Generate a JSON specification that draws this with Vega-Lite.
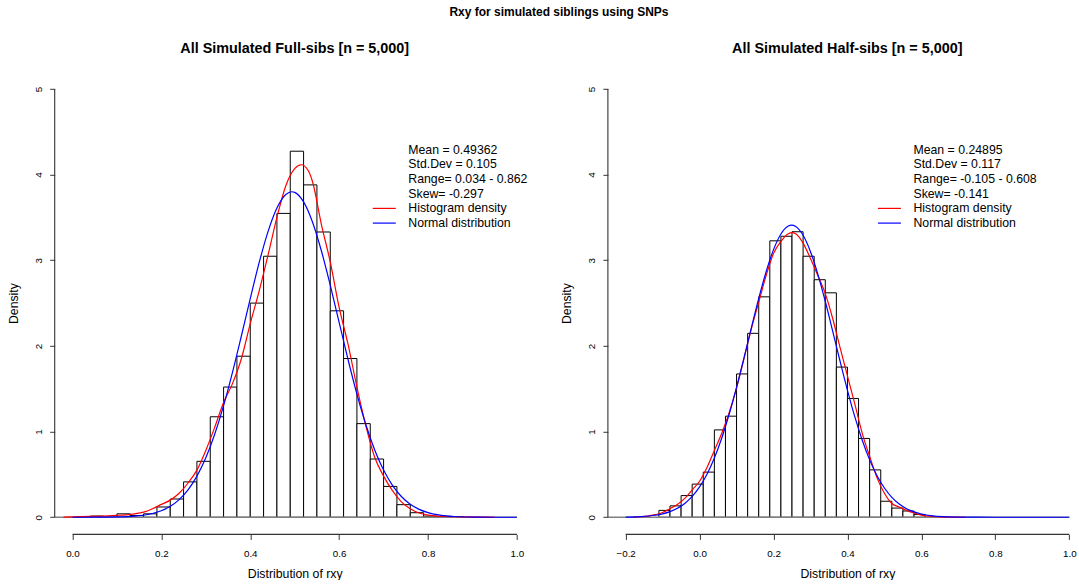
{
  "$schema": "https://vega.github.io/schema/vega-lite/v6.json",
  "background": "white",
  "padding": {"left": 6.7, "top": 4.8, "right": 0, "bottom": 0},
  "autosize": {"type": "pad"},
  "bounds": "flush",
  "spacing": 73.2,
  "title": {"text": "Rxy for simulated siblings using SNPs", "fontSize": 12, "fontWeight": "bold", "font": "Liberation Sans", "color": "#000", "anchor": "middle", "offset": 22, "dx": 17},
  "config": {
    "font": "Liberation Sans",
    "view": {"stroke": null},
    "axis": {"domain": false, "grid": false, "ticks": true, "tickSize": 5, "tickColor": "#333", "tickWidth": 1, "labelFont": "Liberation Sans", "labelFontSize": 9.8, "labelColor": "#000", "titleFont": "Liberation Sans", "titleFontSize": 12.3, "titleFontWeight": "normal", "titleColor": "#000", "labelOverlap": false, "labelFlush": false}
  },
  "resolve": {"scale": {"color": "independent", "x": "independent", "y": "independent"}, "legend": {"color": "independent"}},
  "datasets": {
    "full_hist": [
      {"bin_start": 0.01, "bin_end": 0.04, "density": 0.0067},
      {"bin_start": 0.04, "bin_end": 0.07, "density": 0.0133},
      {"bin_start": 0.07, "bin_end": 0.10, "density": 0},
      {"bin_start": 0.10, "bin_end": 0.13, "density": 0.04},
      {"bin_start": 0.13, "bin_end": 0.16, "density": 0.02},
      {"bin_start": 0.16, "bin_end": 0.19, "density": 0.04},
      {"bin_start": 0.19, "bin_end": 0.22, "density": 0.12},
      {"bin_start": 0.22, "bin_end": 0.25, "density": 0.213},
      {"bin_start": 0.25, "bin_end": 0.28, "density": 0.413},
      {"bin_start": 0.28, "bin_end": 0.31, "density": 0.653},
      {"bin_start": 0.31, "bin_end": 0.34, "density": 1.173},
      {"bin_start": 0.34, "bin_end": 0.37, "density": 1.52},
      {"bin_start": 0.37, "bin_end": 0.40, "density": 1.88},
      {"bin_start": 0.40, "bin_end": 0.43, "density": 2.50},
      {"bin_start": 0.43, "bin_end": 0.46, "density": 3.047},
      {"bin_start": 0.46, "bin_end": 0.49, "density": 3.547},
      {"bin_start": 0.49, "bin_end": 0.52, "density": 4.273},
      {"bin_start": 0.52, "bin_end": 0.55, "density": 3.88},
      {"bin_start": 0.55, "bin_end": 0.58, "density": 3.33},
      {"bin_start": 0.58, "bin_end": 0.61, "density": 2.41},
      {"bin_start": 0.61, "bin_end": 0.64, "density": 1.853},
      {"bin_start": 0.64, "bin_end": 0.67, "density": 1.093},
      {"bin_start": 0.67, "bin_end": 0.70, "density": 0.68},
      {"bin_start": 0.70, "bin_end": 0.73, "density": 0.36},
      {"bin_start": 0.73, "bin_end": 0.76, "density": 0.147},
      {"bin_start": 0.76, "bin_end": 0.79, "density": 0.053},
      {"bin_start": 0.79, "bin_end": 0.82, "density": 0.013},
      {"bin_start": 0.82, "bin_end": 0.85, "density": 0.007},
      {"bin_start": 0.85, "bin_end": 0.88, "density": 0.007}
    ],
    "half_hist": [
      {"bin_start": -0.11, "bin_end": -0.08, "density": 0.08},
      {"bin_start": -0.08, "bin_end": -0.05, "density": 0.133},
      {"bin_start": -0.05, "bin_end": -0.02, "density": 0.253},
      {"bin_start": -0.02, "bin_end": 0.01, "density": 0.387},
      {"bin_start": 0.01, "bin_end": 0.04, "density": 0.527},
      {"bin_start": 0.04, "bin_end": 0.07, "density": 1.02},
      {"bin_start": 0.07, "bin_end": 0.10, "density": 1.18},
      {"bin_start": 0.10, "bin_end": 0.13, "density": 1.673},
      {"bin_start": 0.13, "bin_end": 0.16, "density": 2.147},
      {"bin_start": 0.16, "bin_end": 0.19, "density": 2.573},
      {"bin_start": 0.19, "bin_end": 0.22, "density": 3.227},
      {"bin_start": 0.22, "bin_end": 0.25, "density": 3.28},
      {"bin_start": 0.25, "bin_end": 0.28, "density": 3.333},
      {"bin_start": 0.28, "bin_end": 0.31, "density": 3.047},
      {"bin_start": 0.31, "bin_end": 0.34, "density": 2.773},
      {"bin_start": 0.34, "bin_end": 0.37, "density": 2.62},
      {"bin_start": 0.37, "bin_end": 0.40, "density": 1.753},
      {"bin_start": 0.40, "bin_end": 0.43, "density": 1.387},
      {"bin_start": 0.43, "bin_end": 0.46, "density": 0.92},
      {"bin_start": 0.46, "bin_end": 0.49, "density": 0.553},
      {"bin_start": 0.49, "bin_end": 0.52, "density": 0.187},
      {"bin_start": 0.52, "bin_end": 0.55, "density": 0.107},
      {"bin_start": 0.55, "bin_end": 0.58, "density": 0.073},
      {"bin_start": 0.58, "bin_end": 0.61, "density": 0.033}
    ],
    "full_curves": [
      {"series": "Histogram density", "x": -0.02, "density": 0.001},
      {"series": "Histogram density", "x": 0.00, "density": 0.004},
      {"series": "Histogram density", "x": 0.04, "density": 0.011},
      {"series": "Histogram density", "x": 0.08, "density": 0.017},
      {"series": "Histogram density", "x": 0.10, "density": 0.022},
      {"series": "Histogram density", "x": 0.12, "density": 0.028},
      {"series": "Histogram density", "x": 0.14, "density": 0.040},
      {"series": "Histogram density", "x": 0.16, "density": 0.060},
      {"series": "Histogram density", "x": 0.18, "density": 0.100},
      {"series": "Histogram density", "x": 0.20, "density": 0.150},
      {"series": "Histogram density", "x": 0.22, "density": 0.200},
      {"series": "Histogram density", "x": 0.24, "density": 0.280},
      {"series": "Histogram density", "x": 0.26, "density": 0.400},
      {"series": "Histogram density", "x": 0.28, "density": 0.550},
      {"series": "Histogram density", "x": 0.30, "density": 0.780},
      {"series": "Histogram density", "x": 0.32, "density": 1.050},
      {"series": "Histogram density", "x": 0.34, "density": 1.340},
      {"series": "Histogram density", "x": 0.36, "density": 1.560},
      {"series": "Histogram density", "x": 0.38, "density": 1.850},
      {"series": "Histogram density", "x": 0.40, "density": 2.260},
      {"series": "Histogram density", "x": 0.42, "density": 2.640},
      {"series": "Histogram density", "x": 0.44, "density": 3.060},
      {"series": "Histogram density", "x": 0.46, "density": 3.500},
      {"series": "Histogram density", "x": 0.48, "density": 3.870},
      {"series": "Histogram density", "x": 0.50, "density": 4.070},
      {"series": "Histogram density", "x": 0.515, "density": 4.115},
      {"series": "Histogram density", "x": 0.53, "density": 4.050},
      {"series": "Histogram density", "x": 0.54, "density": 3.920},
      {"series": "Histogram density", "x": 0.56, "density": 3.420},
      {"series": "Histogram density", "x": 0.58, "density": 2.980},
      {"series": "Histogram density", "x": 0.60, "density": 2.450},
      {"series": "Histogram density", "x": 0.62, "density": 2.020},
      {"series": "Histogram density", "x": 0.64, "density": 1.520},
      {"series": "Histogram density", "x": 0.66, "density": 1.070},
      {"series": "Histogram density", "x": 0.68, "density": 0.700},
      {"series": "Histogram density", "x": 0.70, "density": 0.480},
      {"series": "Histogram density", "x": 0.72, "density": 0.310},
      {"series": "Histogram density", "x": 0.74, "density": 0.180},
      {"series": "Histogram density", "x": 0.76, "density": 0.100},
      {"series": "Histogram density", "x": 0.78, "density": 0.050},
      {"series": "Histogram density", "x": 0.80, "density": 0.025},
      {"series": "Histogram density", "x": 0.82, "density": 0.013},
      {"series": "Histogram density", "x": 0.85, "density": 0.008},
      {"series": "Histogram density", "x": 0.88, "density": 0.005},
      {"series": "Histogram density", "x": 0.92, "density": 0.002},
      {"series": "Histogram density", "x": 0.95, "density": 0.000},
      {"series": "Normal distribution", "x": 0.00, "density": 0.0001},
      {"series": "Normal distribution", "x": 0.05, "density": 0.0005},
      {"series": "Normal distribution", "x": 0.10, "density": 0.0034},
      {"series": "Normal distribution", "x": 0.14, "density": 0.0131},
      {"series": "Normal distribution", "x": 0.18, "density": 0.0439},
      {"series": "Normal distribution", "x": 0.20, "density": 0.0762},
      {"series": "Normal distribution", "x": 0.22, "density": 0.1273},
      {"series": "Normal distribution", "x": 0.24, "density": 0.2057},
      {"series": "Normal distribution", "x": 0.26, "density": 0.3197},
      {"series": "Normal distribution", "x": 0.28, "density": 0.4799},
      {"series": "Normal distribution", "x": 0.30, "density": 0.6940},
      {"series": "Normal distribution", "x": 0.32, "density": 0.9693},
      {"series": "Normal distribution", "x": 0.34, "density": 1.3030},
      {"series": "Normal distribution", "x": 0.36, "density": 1.6918},
      {"series": "Normal distribution", "x": 0.38, "density": 2.1160},
      {"series": "Normal distribution", "x": 0.40, "density": 2.5530},
      {"series": "Normal distribution", "x": 0.42, "density": 2.9720},
      {"series": "Normal distribution", "x": 0.44, "density": 3.3350},
      {"series": "Normal distribution", "x": 0.46, "density": 3.6100},
      {"series": "Normal distribution", "x": 0.48, "density": 3.7680},
      {"series": "Normal distribution", "x": 0.49362, "density": 3.7995},
      {"series": "Normal distribution", "x": 0.50, "density": 3.7925},
      {"series": "Normal distribution", "x": 0.52, "density": 3.6810},
      {"series": "Normal distribution", "x": 0.54, "density": 3.4470},
      {"series": "Normal distribution", "x": 0.56, "density": 3.1110},
      {"series": "Normal distribution", "x": 0.58, "density": 2.7090},
      {"series": "Normal distribution", "x": 0.60, "density": 2.2740},
      {"series": "Normal distribution", "x": 0.62, "density": 1.8416},
      {"series": "Normal distribution", "x": 0.64, "density": 1.4378},
      {"series": "Normal distribution", "x": 0.66, "density": 1.0825},
      {"series": "Normal distribution", "x": 0.68, "density": 0.7862},
      {"series": "Normal distribution", "x": 0.70, "density": 0.5505},
      {"series": "Normal distribution", "x": 0.72, "density": 0.3720},
      {"series": "Normal distribution", "x": 0.74, "density": 0.2422},
      {"series": "Normal distribution", "x": 0.76, "density": 0.1521},
      {"series": "Normal distribution", "x": 0.78, "density": 0.0921},
      {"series": "Normal distribution", "x": 0.80, "density": 0.0538},
      {"series": "Normal distribution", "x": 0.83, "density": 0.0224},
      {"series": "Normal distribution", "x": 0.86, "density": 0.0086},
      {"series": "Normal distribution", "x": 0.90, "density": 0.0021},
      {"series": "Normal distribution", "x": 0.95, "density": 0.0003},
      {"series": "Normal distribution", "x": 1.00, "density": 0.0000}
    ],
    "half_curves": [
      {"series": "Histogram density", "x": -0.18, "density": 0.002},
      {"series": "Histogram density", "x": -0.16, "density": 0.006},
      {"series": "Histogram density", "x": -0.14, "density": 0.013},
      {"series": "Histogram density", "x": -0.12, "density": 0.030},
      {"series": "Histogram density", "x": -0.10, "density": 0.055},
      {"series": "Histogram density", "x": -0.08, "density": 0.100},
      {"series": "Histogram density", "x": -0.06, "density": 0.150},
      {"series": "Histogram density", "x": -0.04, "density": 0.220},
      {"series": "Histogram density", "x": -0.02, "density": 0.320},
      {"series": "Histogram density", "x": 0.00, "density": 0.420},
      {"series": "Histogram density", "x": 0.02, "density": 0.580},
      {"series": "Histogram density", "x": 0.04, "density": 0.780},
      {"series": "Histogram density", "x": 0.06, "density": 0.980},
      {"series": "Histogram density", "x": 0.08, "density": 1.220},
      {"series": "Histogram density", "x": 0.10, "density": 1.510},
      {"series": "Histogram density", "x": 0.12, "density": 1.850},
      {"series": "Histogram density", "x": 0.14, "density": 2.200},
      {"series": "Histogram density", "x": 0.16, "density": 2.510},
      {"series": "Histogram density", "x": 0.18, "density": 2.820},
      {"series": "Histogram density", "x": 0.20, "density": 3.080},
      {"series": "Histogram density", "x": 0.22, "density": 3.220},
      {"series": "Histogram density", "x": 0.24, "density": 3.310},
      {"series": "Histogram density", "x": 0.25, "density": 3.323},
      {"series": "Histogram density", "x": 0.26, "density": 3.310},
      {"series": "Histogram density", "x": 0.28, "density": 3.200},
      {"series": "Histogram density", "x": 0.30, "density": 3.020},
      {"series": "Histogram density", "x": 0.32, "density": 2.820},
      {"series": "Histogram density", "x": 0.34, "density": 2.610},
      {"series": "Histogram density", "x": 0.36, "density": 2.320},
      {"series": "Histogram density", "x": 0.38, "density": 1.980},
      {"series": "Histogram density", "x": 0.40, "density": 1.650},
      {"series": "Histogram density", "x": 0.42, "density": 1.320},
      {"series": "Histogram density", "x": 0.44, "density": 0.980},
      {"series": "Histogram density", "x": 0.46, "density": 0.710},
      {"series": "Histogram density", "x": 0.48, "density": 0.460},
      {"series": "Histogram density", "x": 0.50, "density": 0.280},
      {"series": "Histogram density", "x": 0.52, "density": 0.160},
      {"series": "Histogram density", "x": 0.54, "density": 0.120},
      {"series": "Histogram density", "x": 0.56, "density": 0.080},
      {"series": "Histogram density", "x": 0.58, "density": 0.050},
      {"series": "Histogram density", "x": 0.60, "density": 0.025},
      {"series": "Histogram density", "x": 0.62, "density": 0.013},
      {"series": "Histogram density", "x": 0.65, "density": 0.005},
      {"series": "Histogram density", "x": 0.68, "density": 0.002},
      {"series": "Histogram density", "x": 0.72, "density": 0.000},
      {"series": "Normal distribution", "x": -0.20, "density": 0.0022},
      {"series": "Normal distribution", "x": -0.16, "density": 0.0076},
      {"series": "Normal distribution", "x": -0.12, "density": 0.0236},
      {"series": "Normal distribution", "x": -0.10, "density": 0.0399},
      {"series": "Normal distribution", "x": -0.08, "density": 0.0655},
      {"series": "Normal distribution", "x": -0.06, "density": 0.1044},
      {"series": "Normal distribution", "x": -0.04, "density": 0.1615},
      {"series": "Normal distribution", "x": -0.02, "density": 0.2428},
      {"series": "Normal distribution", "x": 0.00, "density": 0.3546},
      {"series": "Normal distribution", "x": 0.02, "density": 0.5026},
      {"series": "Normal distribution", "x": 0.04, "density": 0.6921},
      {"series": "Normal distribution", "x": 0.06, "density": 0.9255},
      {"series": "Normal distribution", "x": 0.08, "density": 1.2022},
      {"series": "Normal distribution", "x": 0.10, "density": 1.5163},
      {"series": "Normal distribution", "x": 0.12, "density": 1.8577},
      {"series": "Normal distribution", "x": 0.14, "density": 2.2102},
      {"series": "Normal distribution", "x": 0.16, "density": 2.5540},
      {"series": "Normal distribution", "x": 0.18, "density": 2.8663},
      {"series": "Normal distribution", "x": 0.20, "density": 3.1240},
      {"series": "Normal distribution", "x": 0.22, "density": 3.3071},
      {"series": "Normal distribution", "x": 0.24, "density": 3.3998},
      {"series": "Normal distribution", "x": 0.24895, "density": 3.4098},
      {"series": "Normal distribution", "x": 0.26, "density": 3.3946},
      {"series": "Normal distribution", "x": 0.28, "density": 3.2918},
      {"series": "Normal distribution", "x": 0.30, "density": 3.1002},
      {"series": "Normal distribution", "x": 0.32, "density": 2.8356},
      {"series": "Normal distribution", "x": 0.34, "density": 2.5191},
      {"series": "Normal distribution", "x": 0.36, "density": 2.1734},
      {"series": "Normal distribution", "x": 0.38, "density": 1.8212},
      {"series": "Normal distribution", "x": 0.40, "density": 1.4819},
      {"series": "Normal distribution", "x": 0.42, "density": 1.1709},
      {"series": "Normal distribution", "x": 0.44, "density": 0.8988},
      {"series": "Normal distribution", "x": 0.46, "density": 0.6700},
      {"series": "Normal distribution", "x": 0.48, "density": 0.4852},
      {"series": "Normal distribution", "x": 0.50, "density": 0.3413},
      {"series": "Normal distribution", "x": 0.52, "density": 0.2330},
      {"series": "Normal distribution", "x": 0.54, "density": 0.1546},
      {"series": "Normal distribution", "x": 0.56, "density": 0.0995},
      {"series": "Normal distribution", "x": 0.58, "density": 0.0623},
      {"series": "Normal distribution", "x": 0.60, "density": 0.0378},
      {"series": "Normal distribution", "x": 0.63, "density": 0.0170},
      {"series": "Normal distribution", "x": 0.66, "density": 0.0071},
      {"series": "Normal distribution", "x": 0.70, "density": 0.0020},
      {"series": "Normal distribution", "x": 0.75, "density": 0.0004},
      {"series": "Normal distribution", "x": 0.80, "density": 0.0001},
      {"series": "Normal distribution", "x": 0.90, "density": 0.0000},
      {"series": "Normal distribution", "x": 1.00, "density": 0.0000}
    ]
  },
  "hconcat": [
    {
      "width": 480,
      "height": 462.6,
      "title": {"text": "All Simulated Full-sibs [n = 5,000]", "fontSize": 14.4, "fontWeight": "bold", "font": "Liberation Sans", "color": "#000", "anchor": "middle", "frame": "group", "offset": 15.8},
      "layer": [
        {
          "data": {"name": "full_hist"},
          "mark": {"type": "rect", "fill": "white", "stroke": "black", "strokeWidth": 1},
          "encoding": {
            "x": {"field": "bin_start", "type": "quantitative", "scale": {"domain": [-0.04, 1.04], "nice": false, "zero": false}, "axis": {"title": "Distribution of rxy", "values": [0, 0.2, 0.4, 0.6, 0.8, 1.0], "format": ".1f", "labelPadding": 9, "titlePadding": 9.1}},
            "x2": {"field": "bin_end"},
            "y": {"field": "density", "type": "quantitative", "scale": {"domain": [-0.2, 5.2], "nice": false, "zero": false}, "axis": {"title": "Density", "values": [0, 1, 2, 3, 4, 5], "format": "d", "labelAngle": 270, "labelAlign": "center", "labelBaseline": "bottom", "labelPadding": 6.6, "minExtent": 22, "maxExtent": 22, "titlePadding": 12.5}},
            "y2": {"datum": 0}
          }
        },
        {
          "data": {"values": [{}]},
          "mark": {"type": "rule", "color": "#808080", "strokeWidth": 1.5},
          "encoding": {"x": {"datum": -0.04, "type": "quantitative"}, "x2": {"datum": 1.0}, "y": {"datum": 0, "type": "quantitative"}}
        },
        {
          "data": {"values": [{}]},
          "mark": {"type": "rule", "color": "#333", "strokeWidth": 1.1},
          "encoding": {"x": {"datum": 0, "type": "quantitative"}, "x2": {"datum": 1.0}, "y": {"datum": -0.2, "type": "quantitative"}}
        },
        {
          "data": {"values": [{}]},
          "mark": {"type": "rule", "color": "#333", "strokeWidth": 1.1},
          "encoding": {"x": {"datum": -0.04, "type": "quantitative"}, "y": {"datum": 0, "type": "quantitative"}, "y2": {"datum": 5}}
        },
        {
          "data": {"name": "full_curves"},
          "mark": {"type": "line", "interpolate": "monotone", "strokeWidth": 1.2},
          "encoding": {
            "x": {"field": "x", "type": "quantitative"},
            "y": {"field": "density", "type": "quantitative"},
            "color": {"field": "series", "type": "nominal",
              "scale": {"domain": ["Mean = 0.49362", "Std.Dev = 0.105", "Range= 0.034 - 0.862", "Skew= -0.297", "Histogram density", "Normal distribution"], "range": ["rgba(0,0,0,0)", "rgba(0,0,0,0)", "rgba(0,0,0,0)", "rgba(0,0,0,0)", "#FF0000", "#0000FF"]},
              "legend": {"orient": "none", "legendX": 323.45, "legendY": 71.65, "title": null, "padding": 0, "symbolType": "M-3.83,0H3.83", "symbolSize": 36, "symbolStrokeWidth": 1.2, "labelOffset": 17.85, "rowPadding": 1.7, "labelFont": "Liberation Sans", "labelFontSize": 12.3, "labelColor": "#000", "labelLimit": 400}
            }
          }
        }
      ]
    },
    {
      "width": 468.8,
      "height": 462.6,
      "title": {"text": "All Simulated Half-sibs [n = 5,000]", "fontSize": 14.4, "fontWeight": "bold", "font": "Liberation Sans", "color": "#000", "anchor": "middle", "frame": "group", "offset": 15.8, "dx": 5},
      "layer": [
        {
          "data": {"name": "half_hist"},
          "mark": {"type": "rect", "fill": "white", "stroke": "black", "strokeWidth": 1},
          "encoding": {
            "x": {"field": "bin_start", "type": "quantitative", "scale": {"domain": [-0.248, 1.02], "nice": false, "zero": false}, "axis": {"title": "Distribution of rxy", "values": [-0.2, 0, 0.2, 0.4, 0.6, 0.8, 1.0], "format": ".1f", "labelPadding": 9, "titlePadding": 9.1, "titleX": 239.5}},
            "x2": {"field": "bin_end"},
            "y": {"field": "density", "type": "quantitative", "scale": {"domain": [-0.2, 5.2], "nice": false, "zero": false}, "axis": {"title": "Density", "values": [0, 1, 2, 3, 4, 5], "format": "d", "labelAngle": 270, "labelAlign": "center", "labelBaseline": "bottom", "labelPadding": 6.6, "minExtent": 22, "maxExtent": 22, "titlePadding": 12.5}},
            "y2": {"datum": 0}
          }
        },
        {
          "data": {"values": [{}]},
          "mark": {"type": "rule", "color": "#808080", "strokeWidth": 1.5},
          "encoding": {"x": {"datum": -0.248, "type": "quantitative"}, "x2": {"datum": 1.0}, "y": {"datum": 0, "type": "quantitative"}}
        },
        {
          "data": {"values": [{}]},
          "mark": {"type": "rule", "color": "#333", "strokeWidth": 1.1},
          "encoding": {"x": {"datum": -0.2, "type": "quantitative"}, "x2": {"datum": 1.0}, "y": {"datum": -0.2, "type": "quantitative"}}
        },
        {
          "data": {"values": [{}]},
          "mark": {"type": "rule", "color": "#333", "strokeWidth": 1.1},
          "encoding": {"x": {"datum": -0.248, "type": "quantitative"}, "y": {"datum": 0, "type": "quantitative"}, "y2": {"datum": 5}}
        },
        {
          "data": {"name": "half_curves"},
          "mark": {"type": "line", "interpolate": "monotone", "strokeWidth": 1.2},
          "encoding": {
            "x": {"field": "x", "type": "quantitative"},
            "y": {"field": "density", "type": "quantitative"},
            "color": {"field": "series", "type": "nominal",
              "scale": {"domain": ["Mean = 0.24895", "Std.Dev = 0.117", "Range= -0.105 - 0.608", "Skew= -0.141", "Histogram density", "Normal distribution"], "range": ["rgba(0,0,0,0)", "rgba(0,0,0,0)", "rgba(0,0,0,0)", "rgba(0,0,0,0)", "#FF0000", "#0000FF"]},
              "legend": {"orient": "none", "legendX": 275.4, "legendY": 71.65, "title": null, "padding": 0, "symbolType": "M-3.83,0H3.83", "symbolSize": 36, "symbolStrokeWidth": 1.2, "labelOffset": 17.85, "rowPadding": 1.7, "labelFont": "Liberation Sans", "labelFontSize": 12.3, "labelColor": "#000", "labelLimit": 400}
            }
          }
        }
      ]
    }
  ]
}
